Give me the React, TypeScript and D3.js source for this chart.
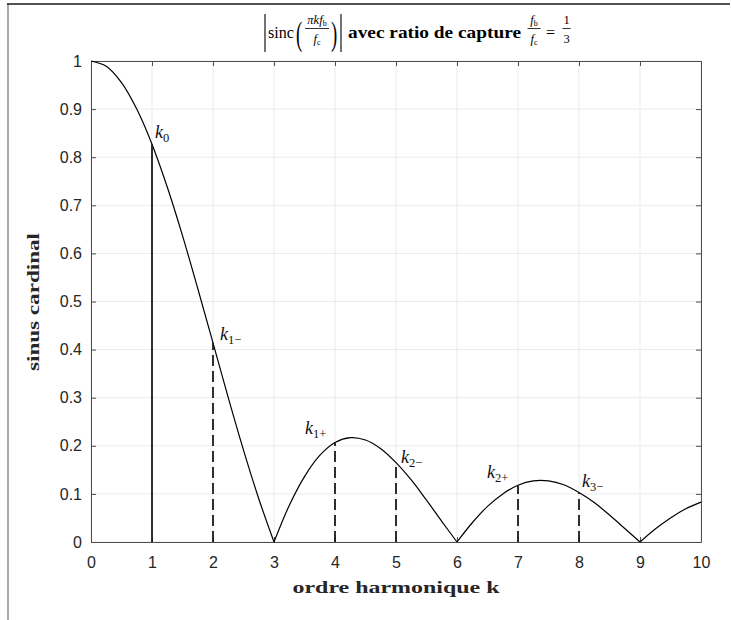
import React, { useRef, useEffect } from 'react';
import * as d3 from 'd3';

// harmonic order k, read every quarter step
const kValues = [
  0, 0.25, 0.5, 0.75, 1, 1.25, 1.5, 1.75, 2, 2.25, 2.5, 2.75,
  3, 3.25, 3.5, 3.75, 4, 4.25, 4.5, 4.75, 5, 5.25, 5.5, 5.75,
  6, 6.25, 6.5, 6.75, 7, 7.25, 7.5, 7.75, 8, 8.25, 8.5, 8.75,
  9, 9.25, 9.5, 9.75, 10,
];
// |sinc|
const sincValues = [
  1, 0.989, 0.955, 0.9, 0.827, 0.738, 0.637, 0.527, 0.414, 0.3, 0.191, 0.09,
  0, 0.076, 0.136, 0.18, 0.207, 0.217, 0.212, 0.194, 0.165, 0.129, 0.087, 0.043,
  0, 0.04, 0.074, 0.1, 0.118, 0.127, 0.127, 0.119, 0.103, 0.082, 0.056, 0.028,
  0, 0.027, 0.05, 0.069, 0.083,
];

// captured harmonics (stems)
const stemK = [1, 2, 4, 5, 7, 8];
const stemValues = [0.827, 0.414, 0.207, 0.165, 0.118, 0.103];
const stemSubscripts = ['0', '1\u2212', '1+', '2\u2212', '2+', '3\u2212'];

const xTicks = [0, 1, 2, 3, 4, 5, 6, 7, 8, 9, 10];
const yTicks = [0, 0.1, 0.2, 0.3, 0.4, 0.5, 0.6, 0.7, 0.8, 0.9, 1];

const width = 731;
const height = 620;

const App = () => {
  const svgRef = useRef<SVGSVGElement>(null);

  useEffect(() => {
    const svg = d3.select(svgRef.current);
    svg.selectAll('*').remove();

    const x = d3.scaleLinear().domain([0, 10]).range([91, 701]);
    const y = d3.scaleLinear().domain([0, 1]).range([542, 61]);

    const sans = '"Liberation Sans", Arial, sans-serif';
    const serif = '"Liberation Serif", "Times New Roman", serif';
    const axisColor = '#4d4d4d';
    const textColor = '#262626';

    // page frame lines
    svg.append('line')
      .attr('x1', 8).attr('x2', 8).attr('y1', 4).attr('y2', height)
      .attr('stroke', '#8c8c8c').attr('stroke-width', 1.5);
    svg.append('line')
      .attr('x1', 7).attr('x2', 730).attr('y1', 4).attr('y2', 4)
      .attr('stroke', '#1a1a1a').attr('stroke-width', 1.5);

    // grid
    const grid = svg.append('g').attr('stroke', '#ebebeb').attr('stroke-width', 1);
    grid.selectAll('line.gx').data(xTicks).join('line')
      .attr('class', 'gx')
      .attr('x1', d => x(d)).attr('x2', d => x(d))
      .attr('y1', y(0)).attr('y2', y(1));
    grid.selectAll('line.gy').data(yTicks).join('line')
      .attr('class', 'gy')
      .attr('x1', x(0)).attr('x2', x(10))
      .attr('y1', d => y(d)).attr('y2', d => y(d));

    // axes (box with inward ticks)
    const fmtY = (d: d3.NumberValue) => String(+(+d).toFixed(1));
    const styleAxis = (g: d3.Selection<SVGGElement, unknown, null, undefined>) => {
      g.attr('color', axisColor);
      g.selectAll('text')
        .attr('fill', textColor)
        .attr('font-family', sans)
        .attr('font-size', 16);
    };

    svg.append('g')
      .attr('transform', `translate(0,${y(0)})`)
      .call(d3.axisBottom(x).tickValues(xTicks).tickSize(-5).tickSizeOuter(0).tickPadding(15).tickFormat(d3.format('d')))
      .call(styleAxis);
    svg.append('g')
      .attr('transform', `translate(0,${y(1)})`)
      .call(d3.axisTop(x).tickValues(xTicks).tickSize(-5).tickSizeOuter(0).tickFormat(() => ''))
      .call(styleAxis);
    svg.append('g')
      .attr('transform', `translate(${x(0)},0)`)
      .call(d3.axisLeft(y).tickValues(yTicks).tickSize(-5).tickSizeOuter(0).tickPadding(9).tickFormat(fmtY))
      .call(styleAxis);
    svg.append('g')
      .attr('transform', `translate(${x(10)},0)`)
      .call(d3.axisRight(y).tickValues(yTicks).tickSize(-5).tickSizeOuter(0).tickFormat(() => ''))
      .call(styleAxis);

    // curve, split at the zeros so the cusps stay sharp
    const pts = kValues.map((k, i) => ({ k, v: sincValues[i] }));
    const segments: { k: number; v: number }[][] = [];
    let current: { k: number; v: number }[] = [];
    pts.forEach((p, i) => {
      current.push(p);
      if (p.v === 0 && i > 0) {
        segments.push(current);
        current = [p];
      }
    });
    if (current.length > 1) segments.push(current);

    const line = d3.line<{ k: number; v: number }>()
      .x(d => x(d.k))
      .y(d => y(d.v))
      .curve(d3.curveCatmullRom.alpha(0.5));

    svg.append('g').selectAll('path').data(segments).join('path')
      .attr('d', d => line(d))
      .attr('fill', 'none')
      .attr('stroke', '#000')
      .attr('stroke-width', 1.2);

    // stems
    svg.append('g').selectAll('line').data(stemK).join('line')
      .attr('x1', d => x(d)).attr('x2', d => x(d))
      .attr('y1', y(0)).attr('y2', (d, i) => y(stemValues[i]))
      .attr('stroke', '#1a1a1a')
      .attr('stroke-width', 1.8)
      .attr('stroke-dasharray', (d, i) => (i === 0 ? null : '11,5'));

    // stem labels: pixel offsets from each stem top
    const labelOffsets = [[3, -6], [7, -3], [-30, -8], [5, 0], [-31, -7], [3, -5]];
    const labels = svg.append('g').attr('font-family', serif).attr('fill', '#111');
    stemK.forEach((k, i) => {
      const t = labels.append('text')
        .attr('x', x(k) + labelOffsets[i][0])
        .attr('y', y(stemValues[i]) + labelOffsets[i][1]);
      t.append('tspan').attr('font-style', 'italic').attr('font-size', 18).text('k');
      t.append('tspan').attr('font-size', 12.5).attr('dy', 4).text(stemSubscripts[i]);
    });

    // axis labels
    svg.append('text')
      .attr('x', 396).attr('y', 593)
      .attr('text-anchor', 'middle')
      .attr('font-family', serif).attr('font-weight', 'bold').attr('font-size', 17)
      .attr('fill', textColor)
      .attr('textLength', 207).attr('lengthAdjust', 'spacingAndGlyphs')
      .text('ordre harmonique k');
    svg.append('text')
      .attr('transform', 'translate(39,302) rotate(-90)')
      .attr('text-anchor', 'middle')
      .attr('font-family', serif).attr('font-weight', 'bold').attr('font-size', 17)
      .attr('fill', textColor)
      .attr('textLength', 138).attr('lengthAdjust', 'spacingAndGlyphs')
      .text('sinus cardinal');

    // title
    const title = svg.append('g').attr('font-family', serif).attr('fill', '#000');
    [265, 341].forEach(bx => {
      title.append('line')
        .attr('x1', bx).attr('x2', bx).attr('y1', 14).attr('y2', 52)
        .attr('stroke', '#000').attr('stroke-width', 1.1);
    });
    title.append('text').attr('x', 268).attr('y', 38).attr('font-size', 16).text('sinc');
    title.append('text').attr('transform', 'translate(296,45) scale(0.55,1)').attr('font-size', 34).text('(');
    title.append('text').attr('transform', 'translate(331,45) scale(0.55,1)').attr('font-size', 34).text(')');

    const fraction = (cx: number, half: number, num: (t: any) => void, den: (t: any) => void) => {
      const n = title.append('text').attr('x', cx).attr('y', 24).attr('text-anchor', 'middle').attr('font-size', 12.5);
      num(n);
      title.append('line')
        .attr('x1', cx - half).attr('x2', cx + half).attr('y1', 28.5).attr('y2', 28.5)
        .attr('stroke', '#000').attr('stroke-width', 0.8);
      const dd = title.append('text').attr('x', cx).attr('y', 43).attr('text-anchor', 'middle').attr('font-size', 12.5);
      den(dd);
    };
    const fSub = (t: any, main: string, sub: string) => {
      t.append('tspan').attr('font-style', 'italic').text(main);
      t.append('tspan').attr('font-size', 8).attr('dy', 2).text(sub);
    };

    fraction(317, 12, t => fSub(t, '\u03c0kf', 'b'), t => fSub(t, 'f', 'c'));
    title.append('text')
      .attr('x', 348).attr('y', 38)
      .attr('font-size', 16.5).attr('font-weight', 'bold')
      .attr('textLength', 173).attr('lengthAdjust', 'spacingAndGlyphs')
      .text('avec ratio de capture');
    fraction(534, 6.5, t => fSub(t, 'f', 'b'), t => fSub(t, 'f', 'c'));
    title.append('text').attr('x', 546).attr('y', 38).attr('font-size', 16).text('=');
    fraction(566.5, 4, t => t.text('1'), t => t.text('3'));
  }, []);

  return (
    <svg
      ref={svgRef}
      width={width}
      height={height}
      style={{ position: 'absolute', left: 0, top: 0, background: '#fff' }}
    />
  );
};

export default App;
